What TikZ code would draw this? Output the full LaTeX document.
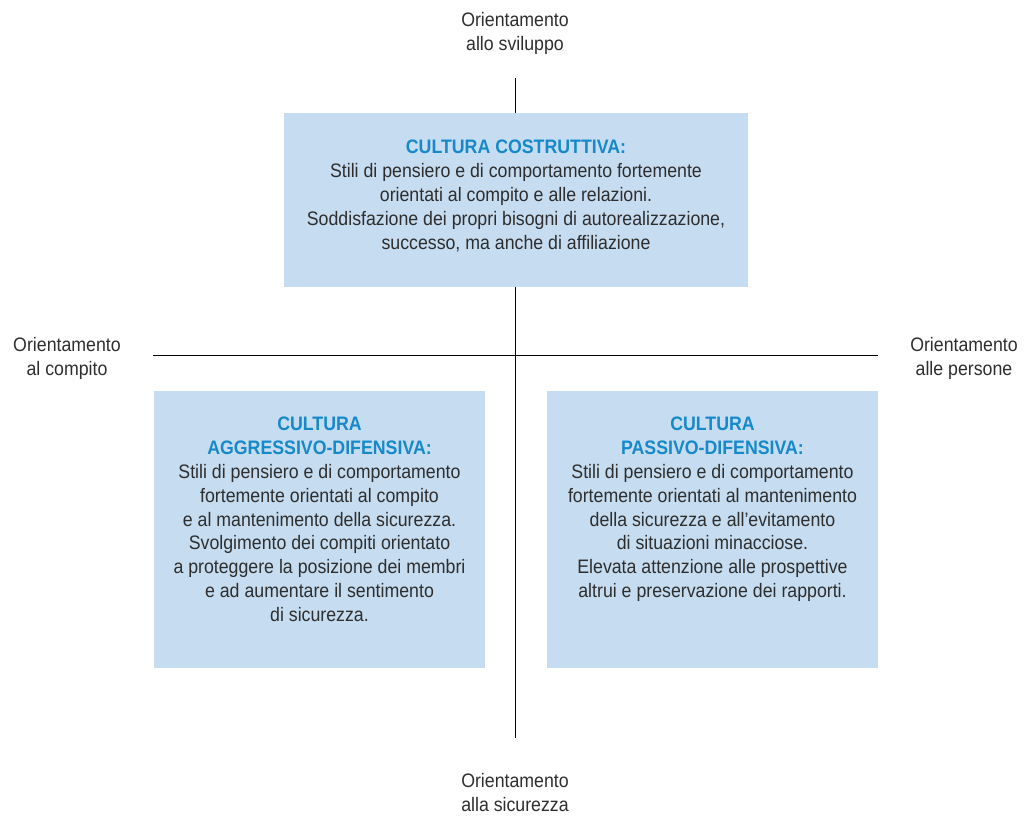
\documentclass[tikz,border=0pt]{standalone}
\usepackage{fontspec}
\setmainfont{Liberation Sans}[FakeStretch=0.91]

\definecolor{fondo}{HTML}{C6DCF0}
\definecolor{blutitolo}{HTML}{1589CA}
\definecolor{grigiotesto}{HTML}{2E2E2E}

\newcommand{\intest}[1]{{\bfseries\color{blutitolo}#1}}

\tikzset{
    corpo/.style={align=center, inner sep=0pt, anchor=north, text=grigiotesto,
        font=\fontsize{19.5}{23.8}\selectfont},
    asse/.style={line width=1pt, black}
}

\begin{document}
\begin{tikzpicture}[x=1pt,y=-1pt]
    \useasboundingbox (0,0) rectangle (1032,816);

    % Assi
    \coordinate (alto) at (515,78);
    \coordinate (basso) at (515,738);
    \coordinate (sinistra) at (153,355);
    \coordinate (destra) at (878,355);
    \draw[asse] (alto) -- (basso);
    \draw[asse] (sinistra) -- (destra);

    % Etichette degli assi
    \node[corpo] (sviluppo) at (515,12) {Orientamento\\allo sviluppo};
    \node[corpo] (compito) at (67,337) {Orientamento\\al compito};
    \node[corpo] (persone) at (964,337) {Orientamento\\alle persone};
    \node[corpo] (sicurezza) at (515,773) {Orientamento\\alla sicurezza};

    % Riquadri
    \fill[fondo] (284,113) rectangle (748,287);
    \fill[fondo] (154,391) rectangle (485,668);
    \fill[fondo] (547,391) rectangle (878,668);

    % Cultura costruttiva
    \node[corpo] (costruttiva) at (516,140) {\intest{CULTURA COSTRUTTIVA:}\\
        Stili di pensiero e di comportamento fortemente\\
        orientati al compito e alle relazioni.\\
        Soddisfazione dei propri bisogni di autorealizzazione,\\
        successo, ma anche di affiliazione};

    % Cultura aggressivo-difensiva
    \node[corpo] (aggressiva) at (319.5,417) {\intest{CULTURA}\\
        \intest{AGGRESSIVO-DIFENSIVA:}\\
        Stili di pensiero e di comportamento\\
        fortemente orientati al compito\\
        e al mantenimento della sicurezza.\\
        Svolgimento dei compiti orientato\\
        a proteggere la posizione dei membri\\
        e ad aumentare il sentimento\\
        di sicurezza.};

    % Cultura passivo-difensiva
    \node[corpo] (passiva) at (712.5,417) {\intest{CULTURA}\\
        \intest{PASSIVO-DIFENSIVA:}\\
        Stili di pensiero e di comportamento\\
        fortemente orientati al mantenimento\\
        della sicurezza e all’evitamento\\
        di situazioni minacciose.\\
        Elevata attenzione alle prospettive\\
        altrui e preservazione dei rapporti.};

\end{tikzpicture}
\end{document}
